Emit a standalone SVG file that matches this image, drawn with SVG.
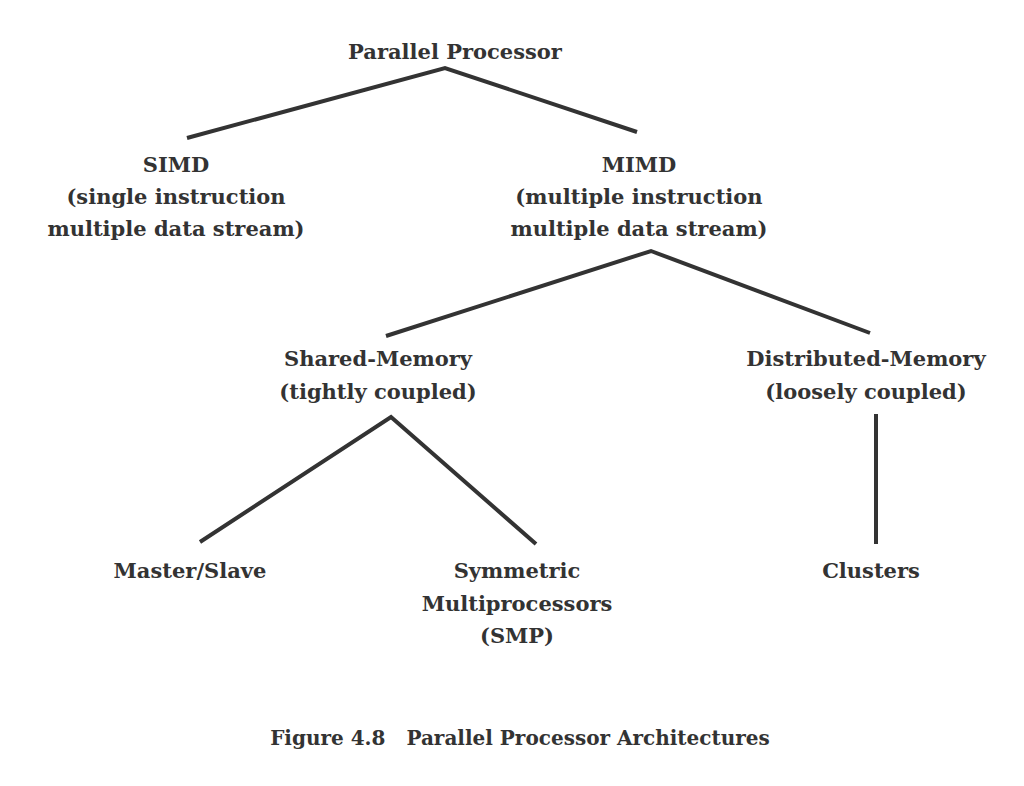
<svg xmlns="http://www.w3.org/2000/svg" width="1024" height="786" viewBox="0 0 1024 786">
<style>
text{font-family:"DejaVu Serif","Liberation Serif",serif;font-weight:bold;font-size:21px;fill:#333;text-anchor:middle}
.cap{font-size:20px;white-space:pre}
.c{stroke:#333;stroke-width:4;fill:none;stroke-linecap:butt;stroke-linejoin:miter}
</style>
<rect width="1024" height="786" fill="#fff"/>
<g id="connectors">
<polyline class="c" points="187,138 445,68 637,132"/>
<polyline class="c" points="386,336 651,251 870,333"/>
<polyline class="c" points="200,542 391,417 536,544"/>
<line class="c" x1="876" y1="414" x2="876" y2="544"/>
</g>
<g id="parallel"><text x="455" y="59">Parallel Processor</text></g>
<g id="simd"><text x="176" y="172">SIMD</text><text x="176" y="204">(single instruction</text><text x="176" y="236">multiple data stream)</text></g>
<g id="mimd"><text x="639" y="172">MIMD</text><text x="639" y="204">(multiple instruction</text><text x="639" y="236">multiple data stream)</text></g>
<g id="shared"><text x="378" y="366">Shared-Memory</text><text x="378" y="399">(tightly coupled)</text></g>
<g id="distributed"><text x="866" y="366">Distributed-Memory</text><text x="866" y="399">(loosely coupled)</text></g>
<g id="masterslave"><text x="190" y="578">Master/Slave</text></g>
<g id="smp"><text x="517" y="578">Symmetric</text><text x="517" y="611">Multiprocessors</text><text x="517" y="643">(SMP)</text></g>
<g id="clusters"><text x="871" y="578">Clusters</text></g>
<g id="caption"><text class="cap" x="520" y="745" xml:space="preserve">Figure 4.8   Parallel Processor Architectures</text></g>
</svg>
